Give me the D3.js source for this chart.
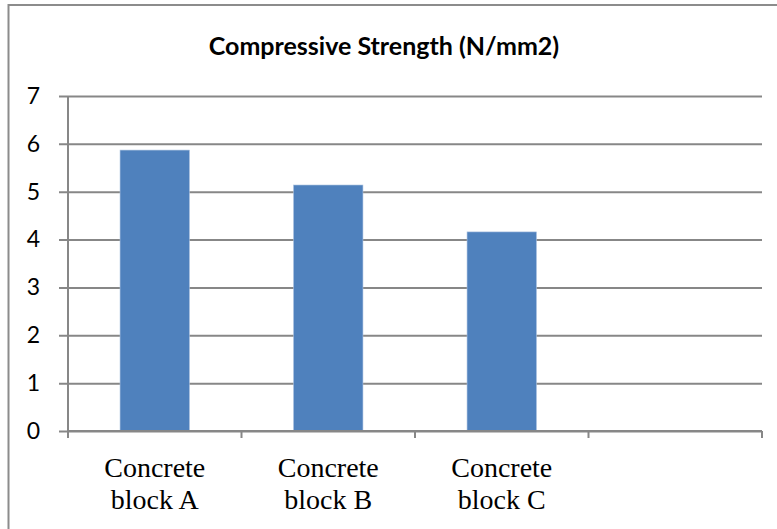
<!DOCTYPE html>
<html>
<head>
<meta charset="utf-8">
<script src="https://cdn.jsdelivr.net/npm/d3@7"></script>
<style>
  body { margin: 0; background: #fff; }
  svg { display: block; }
</style>
</head>
<body>
<div id="vizcontainer"></div>
<script>
const width = 777,
  height = 529;

// data
const categories = ['Concrete block A', 'Concrete block B', 'Concrete block C', ''];
const strength = [5.87, 5.14, 4.16, null];
const yTicks = [0, 1, 2, 3, 4, 5, 6, 7];
const title = 'Compressive Strength (N/mm2)';

const margin = {left: 68, right: 15, top: 96, bottom: 98};

let viz = d3.select('#vizcontainer')
  .append('svg')
  .attr('width', width)
  .attr('height', height);

// chart frame (only top and left edges fall inside the picture)
viz.append('rect')
  .attr('x', 8.5)
  .attr('y', 5)
  .attr('width', width + 20)
  .attr('height', height + 20)
  .attr('fill', '#fff')
  .attr('stroke', '#8c8c8c')
  .attr('stroke-width', 2);

const x = d3.scaleBand()
  .domain(d3.range(categories.length))
  .range([margin.left, width - margin.right])
  .paddingInner(0.6)
  .paddingOuter(0.3);

const y = d3.scaleLinear()
  .domain([0, 7])
  .range([height - margin.bottom, margin.top]);

// gridlines + y ticks
viz.append('g')
  .attr('transform', `translate(${margin.left},0)`)
  .call(d3.axisLeft(y).tickValues(yTicks).tickFormat(d3.format('d'))
    .tickSize(-(width - margin.right - margin.left)).tickSizeOuter(0).tickPadding(0))
  .call(g => g.select('.domain').remove())
  .call(g => g.selectAll('line').attr('x1', -9).attr('stroke', '#878787').attr('stroke-width', 2))
  .call(g => g.selectAll('text')
    .attr('x', -28)
    .attr('text-anchor', 'end')
    .attr('fill', '#000')
    .style('font-family', 'Lato, sans-serif')
    .style('font-size', '23px'));

// bars
viz.selectAll('rect.bar')
  .data(strength.map((v, i) => ({i, v})).filter(d => d.v != null))
  .join('rect')
  .attr('class', 'bar')
  .attr('x', d => x(d.i))
  .attr('y', d => y(d.v))
  .attr('width', x.bandwidth())
  .attr('height', d => y(0) - y(d.v))
  .attr('fill', '#4f81bd')
  .attr('stroke', '#a9c1e0')
  .attr('stroke-width', 0.6);

// y axis line
viz.append('line')
  .attr('x1', margin.left).attr('x2', margin.left)
  .attr('y1', y(7)).attr('y2', y(0))
  .attr('stroke', '#878787').attr('stroke-width', 2);

// x axis line and category ticks
const step = x.step();
const xAxis = viz.append('g');
xAxis.append('line')
  .attr('x1', margin.left).attr('x2', width - margin.right)
  .attr('y1', y(0)).attr('y2', y(0))
  .attr('stroke', '#878787').attr('stroke-width', 2);
xAxis.selectAll('line.tick')
  .data(d3.range(categories.length + 1))
  .join('line')
  .attr('class', 'tick')
  .attr('x1', i => margin.left + i * step)
  .attr('x2', i => margin.left + i * step)
  .attr('y1', y(0))
  .attr('y2', y(0) + 7)
  .attr('stroke', '#878787').attr('stroke-width', 2);

// category labels, two lines each
categories.forEach((c, i) => {
  if (!c) return;
  const words = c.split(' ');
  const lines = [words[0], words.slice(1).join(' ')];
  const t = viz.append('text')
    .attr('x', x(i) + x.bandwidth() / 2)
    .attr('y', 477)
    .attr('text-anchor', 'middle')
    .style('font-family', '"Liberation Serif", "Times New Roman", serif')
    .style('font-size', '28px');
  lines.forEach((l, k) => {
    t.append('tspan')
      .attr('x', x(i) + x.bandwidth() / 2)
      .attr('dy', k === 0 ? 0 : 31.5)
      .text(l);
  });
});

// title
viz.append('text')
  .attr('x', 384)
  .attr('y', 55)
  .attr('text-anchor', 'middle')
  .style('font-family', 'Lato, sans-serif')
  .style('font-weight', 'bold')
  .style('font-size', '25px')
  .text(title);
</script>
</body>
</html>
